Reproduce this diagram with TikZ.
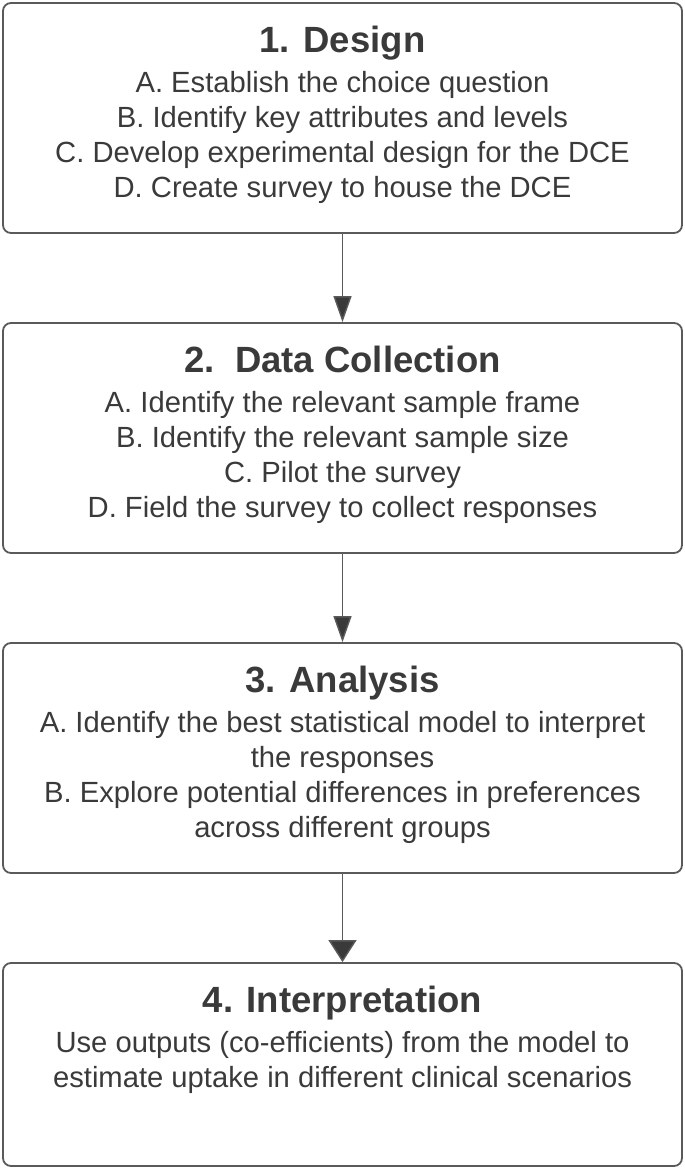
\documentclass[tikz,border=0pt]{standalone}
\usepackage{fontspec}
\setmainfont{Liberation Sans}
\usepackage{tikz}
\usetikzlibrary{arrows.meta,positioning}
\usepackage{xcolor}
\definecolor{boxline}{HTML}{5A5A5A}
\definecolor{ink}{HTML}{3A3A3A}

\begin{document}
\begin{tikzpicture}[x=1pt,y=1pt,line cap=round,
  stage/.style={draw=boxline,line width=1.8pt,rounded corners=8pt,minimum width=679pt,inner sep=0pt},
  stagetitle/.style={font=\fontsize{36.5}{42}\selectfont\bfseries,text=ink,inner sep=0pt,text height=24pt,text depth=7pt},
  stagebody/.style={font=\fontsize{29.2}{35}\selectfont,text=ink,inner sep=0pt,align=center},
  flow/.style={draw=boxline,line width=1.4pt,-{Triangle[width=18pt,length=26pt,fill=ink]}}]
\useasboundingbox (0,0) rectangle (685,-1170);
% stages
\node[stage,minimum height=230pt] (design) at (342.5,-118) {};
\node[stage,minimum height=230pt] (collect) at (342.5,-438) {};
\node[stage,minimum height=230pt] (analysis) at (342.5,-758) {};
\node[stage,minimum height=203pt] (interp) at (342.5,-1064.5) {};
% titles
\node[stagetitle,below=26pt of design.north] (designT) {1. Design};
\node[stagetitle,below=26pt of collect.north] (collectT) {2.\ \ Data Collection};
\node[stagetitle,below=26pt of analysis.north] (analysisT) {3. Analysis};
\node[stagetitle,below=26pt of interp.north] (interpT) {4. Interpretation};
% steps
\node[stagebody,below=12pt of designT.south] (designB) {A. Establish the choice question\\B. Identify key attributes and levels\\C. Develop experimental design for the DCE\\D. Create survey to house the DCE};
\node[stagebody,below=12pt of collectT.south] (collectB) {A. Identify the relevant sample frame\\B. Identify the relevant sample size\\C. Pilot the survey\\D. Field the survey to collect responses};
\node[stagebody,below=12pt of analysisT.south] (analysisB) {A. Identify the best statistical model to interpret\\the responses\\B. Explore potential differences in preferences\\across different groups};
\node[stagebody,below=12pt of interpT.south] (interpB) {Use outputs (co-efficients) from the model to\\estimate uptake in different clinical scenarios};
% arrows
\draw[flow] (design) -- (collect);
\draw[flow] (collect) -- (analysis);
\draw[flow,-{Triangle[width=28pt,length=22pt,fill=ink]}] (analysis) -- (interp);
\end{tikzpicture}
\end{document}
